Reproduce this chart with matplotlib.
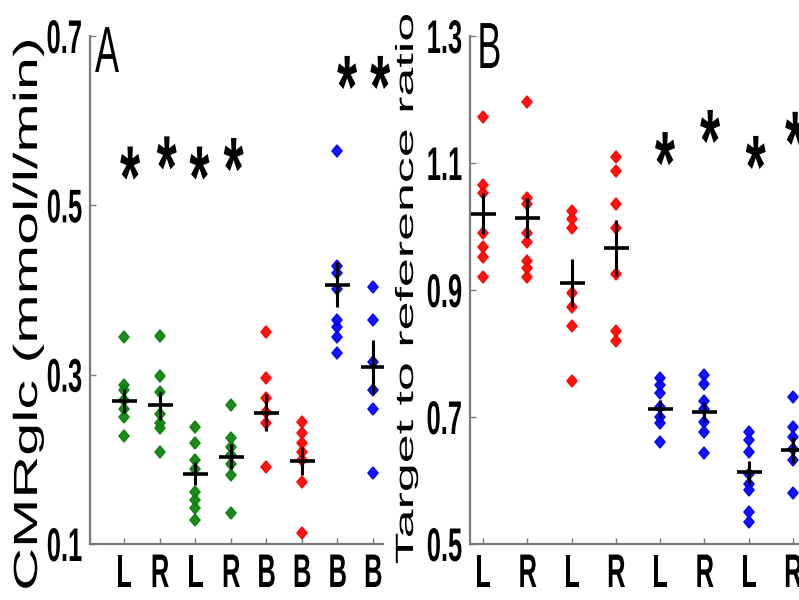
import matplotlib
matplotlib.use("Agg")
import numpy as np
import matplotlib.pyplot as plt
from matplotlib.patheffects import AbstractPathEffect
from matplotlib.transforms import Affine2D, offset_copy
from matplotlib.markers import MarkerStyle

# ---- panel A: CMRglc per region ----
cats_a = ["L", "R", "L", "R", "B", "B", "B", "B"]
colors_a = ["#0b800b"] * 4 + ["#ff0000"] * 2 + ["#0000ff"] * 2
a_g1 = [0.345, 0.288, 0.282, 0.270, 0.259, 0.250, 0.227]
a_g2 = [0.346, 0.298, 0.280, 0.253, 0.243, 0.237, 0.209]
a_g3 = [0.238, 0.219, 0.199, 0.188, 0.162, 0.152, 0.143, 0.128]
a_g4 = [0.264, 0.225, 0.215, 0.205, 0.195, 0.182, 0.137]
a_g5 = [0.350, 0.296, 0.273, 0.256, 0.243, 0.191]
a_g6 = [0.244, 0.231, 0.219, 0.209, 0.199, 0.173, 0.113]
a_g7 = [0.564, 0.428, 0.420, 0.401, 0.365, 0.356, 0.345, 0.326]
a_g8 = [0.403, 0.365, 0.315, 0.282, 0.259, 0.184]
means_a = [0.269, 0.264, 0.183, 0.203, 0.255, 0.198, 0.406, 0.309]
star_x_a = [1.17, 2.20, 3.12, 4.08, 7.27, 8.20]
star_y_a = [0.548, 0.560, 0.548, 0.558, 0.655, 0.655]
yticks_a = [0.1, 0.3, 0.5, 0.7]

# ---- panel B: target to reference ratio ----
cats_b = ["L", "R", "L", "R", "L", "R", "L", "R"]
colors_b = ["#ff0000"] * 4 + ["#0000ff"] * 4
b_g1 = [1.172, 1.065, 1.053, 0.990, 0.968, 0.952, 0.920]
b_g2 = [1.196, 1.045, 1.035, 0.990, 0.975, 0.945, 0.935, 0.920]
b_g3 = [1.025, 1.012, 0.998, 0.895, 0.873, 0.843, 0.756]
b_g4 = [1.110, 1.088, 1.035, 0.998, 0.925, 0.835, 0.820]
b_g5 = [0.762, 0.750, 0.738, 0.715, 0.700, 0.690, 0.660]
b_g6 = [0.766, 0.752, 0.725, 0.712, 0.692, 0.676, 0.643]
b_g7 = [0.676, 0.664, 0.645, 0.610, 0.595, 0.585, 0.550, 0.535]
b_g8 = [0.732, 0.685, 0.668, 0.650, 0.633, 0.580]
means_b = [1.020, 1.013, 0.911, 0.966, 0.713, 0.708, 0.613, 0.648]
star_x_b = [5.11, 6.13, 7.16, 8.05]
star_y_b = [1.120, 1.155, 1.114, 1.152]
yticks_b = [0.5, 0.7, 0.9, 1.1, 1.3]

groups_a = [a_g1, a_g2, a_g3, a_g4, a_g5, a_g6, a_g7, a_g8]
groups_b = [b_g1, b_g2, b_g3, b_g4, b_g5, b_g6, b_g7, b_g8]


class Squash(AbstractPathEffect):
    """Scale glyph outlines along (sx) and across (sy) the text baseline."""

    def __init__(self, sx=1.0, sy=1.0, anchor="center"):
        super().__init__()
        self.sx, self.sy, self.anchor = sx, sy, anchor

    def draw_path(self, renderer, gc, tpath, affine, rgbFace=None):
        ext = tpath.get_extents()
        if self.anchor == "left":
            x0 = ext.x0
        elif self.anchor == "right":
            x0 = ext.x1
        else:
            x0 = 0.5 * (ext.x0 + ext.x1)
        pre = Affine2D().translate(-x0, 0).scale(self.sx, self.sy).translate(x0, 0)
        renderer.draw_path(gc, tpath, pre + affine, rgbFace)


FONT = "Liberation Sans"
TICK_FS = 34
TICK_SX = 0.54
SPINE = "#7a7a7a"

fig = plt.figure(figsize=(7.99, 6.0), dpi=100)
W, H = 799.0, 600.0


def px_axes(left, right, top, bottom):
    return fig.add_axes([left / W, 1 - bottom / H, (right - left) / W, (bottom - top) / H])


ax_a = px_axes(90, 383, 36, 544)
ax_b = px_axes(470, 815, 36, 544)

dot = MarkerStyle("D", transform=Affine2D().scale(0.82, 1.0))


def draw_panel(ax, groups, colors, means, cats, yticks, xlim, ylim, sx_star, sy_star, star_fs):
    for i, (vals, col) in enumerate(zip(groups, colors)):
        xs = np.full(len(vals), i + 1.0)
        ax.plot(xs, vals, linestyle="none", marker=dot, ms=6.0, color=col,
                mec=col, mew=1.1, alpha=0.92, zorder=2)
        v = np.asarray(vals)
        sem = v.std(ddof=1) / np.sqrt(len(v))
        ax.errorbar(i + 1, means[i], yerr=sem, fmt="none", ecolor="black",
                    elinewidth=2.2, capsize=0, zorder=3)
        ax.plot(i + 1, means[i], marker="_", ms=18, mew=2.6, color="black", zorder=3)
    trans = offset_copy(ax.transData, fig=fig, x=0, y=-0.225 * star_fs, units="points")
    for sx_, sy_ in zip(sx_star, sy_star):
        ax.text(sx_, sy_, "*", ha="center", va="center", fontsize=star_fs,
                family=FONT, weight="bold", color="black", transform=trans,
                path_effects=[Squash(0.58, 1.0, "center")])
    ax.set_xlim(*xlim)
    ax.set_ylim(*ylim)
    ax.set_xticks(np.arange(1, len(cats) + 1))
    ax.set_xticklabels(cats)
    ax.set_yticks(yticks)
    ax.set_yticklabels([f"{t:.1f}" for t in yticks])
    for side in ("top", "right"):
        ax.spines[side].set_visible(False)
    for side in ("left", "bottom"):
        ax.spines[side].set_color(SPINE)
        ax.spines[side].set_linewidth(1.6)
    ax.tick_params(direction="in", length=4, width=1, color=SPINE)
    ax.tick_params(axis="x", pad=6.5)
    ax.tick_params(axis="y", pad=5)
    for lab in ax.get_xticklabels():
        lab.set_fontsize(TICK_FS)
        lab.set_family(FONT)
        lab.set_weight("bold")
        lab.set_path_effects([Squash(TICK_SX, 1.0, "center")])
    for lab in ax.get_yticklabels():
        lab.set_fontsize(TICK_FS)
        lab.set_family(FONT)
        lab.set_weight("bold")
        lab.set_path_effects([Squash(TICK_SX, 1.0, "right")])
    ax.patch.set_alpha(0)


draw_panel(ax_a, groups_a, colors_a, means_a, cats_a, yticks_a,
           (0.044, 8.28), (0.1, 0.7), star_x_a, star_y_a, 64)
draw_panel(ax_b, groups_b, colors_b, means_b, cats_b, yticks_b,
           (0.706, 8.5), (0.5, 1.3), star_x_b, star_y_b, 64)

# axis titles, drawn in figure pixels
fig.text(37 / W, 1 - 314 / H, "CMRglc (mmol/l/min)", rotation=90,
         rotation_mode="anchor", ha="center", va="baseline", fontsize=42.7,
         family=FONT, path_effects=[Squash(1.0, 0.565, "center")])
fig.text(413 / W, 1 - 289 / H, "Target to reference ratio", rotation=90,
         rotation_mode="anchor", ha="center", va="baseline", fontsize=37.4,
         family=FONT, path_effects=[Squash(1.0, 0.48, "center")])

# panel letters
fig.text(95 / W, 1 - 72 / H, "A", ha="left", va="baseline", fontsize=47,
         family=FONT, path_effects=[Squash(0.55, 1.0, "left")])
fig.text(475 / W, 1 - 68 / H, "B", ha="left", va="baseline", fontsize=47,
         family=FONT, path_effects=[Squash(0.55, 1.0, "left")])

fig.savefig("out.png", dpi=100)
